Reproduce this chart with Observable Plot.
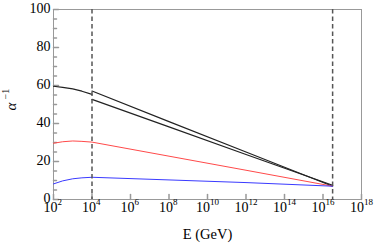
<!DOCTYPE html>
<html>
<head>
<meta charset="utf-8">
<script src="https://cdn.jsdelivr.net/npm/d3@7"></script>
<script src="https://cdn.jsdelivr.net/npm/@observablehq/plot@0.6"></script>
<style>
  html, body { margin: 0; padding: 0; background: #fff; }
</style>
</head>
<body>
<div id="chart"></div>
<script>
// ---- data ----
const E_low = [1e2, 3e2, 1e3, 3e3, 1e4];
const blackLow = [59.6, 59.0, 58.2, 57.0, 55.3];
const redLow = [29.6, 30.4, 30.8, 30.6, 30.2];
const blueLow = [8.2, 9.8, 10.9, 11.4, 11.7];

const E_high = [1e4, 1e8, 1e12, 3.16e16];
const black1High = [57.1, 41.0, 25.0, 7.0];
const black2High = [52.7, 38.2, 23.7, 7.5];
const redHigh = [30.2, 22.8, 15.4, 7.0];
const blueHigh = [11.7, 10.3, 8.9, 7.0];

const thresholds = [1e4, 3.16e16];

const xTicks = [1e2, 1e4, 1e6, 1e8, 1e10, 1e12, 1e14, 1e16, 1e18];
const xTickBase = "10";
const xTickExponents = ["2", "4", "6", "8", "10", "12", "14", "16", "18"];
const yTicks = [0, 20, 40, 60, 80, 100];
const yMinorTicks = [5, 10, 15, 25, 30, 35, 45, 50, 55, 65, 70, 75, 85, 90, 95];
const xTitle = "E (GeV)";
const yTitleBase = "α";
const yTitleExp = "−1";

// ---- build series ----
const pts = (xs, ys) => xs.map((x, i) => ({x, y: ys[i]}));
const series = [
  {data: pts(E_low, blackLow), color: "#222", w: 1.2},
  {data: pts(E_high, black1High), color: "#222", w: 1.2},
  {data: pts(E_high, black2High), color: "#222", w: 1.2},
  {data: pts(E_low.concat(E_high.slice(1)), redLow.concat(redHigh.slice(1))), color: "#ff4a4a", w: 1},
  {data: pts(E_low.concat(E_high.slice(1)), blueLow.concat(blueHigh.slice(1))), color: "#3a3aff", w: 1}
];
const xLabels = xTicks.map((x, i) => ({x, base: xTickBase, exp: xTickExponents[i]}));

const tickShape = {draw(ctx, l) { ctx.moveTo(0, 0); ctx.lineTo(0, -l); }};
const frameColor = "#999";
const serif = "'Liberation Serif', 'Times New Roman', Times, 'DejaVu Serif', serif";

const plot = Plot.plot({
  width: 374,
  height: 248,
  marginLeft: 53,
  marginRight: 13,
  marginTop: 9,
  marginBottom: 49,
  style: {fontFamily: serif, fontSize: "14px", color: "#000", background: "#fff"},
  x: {type: "log", domain: [1e2, 1e18], axis: null},
  y: {domain: [0, 100], axis: null},
  marks: [
    Plot.frame({stroke: frameColor, strokeWidth: 1}),
    Plot.vector(yTicks, {x: 1e2, y: d => d, length: 5, rotate: 90, anchor: "start", shape: tickShape, stroke: frameColor}),
    Plot.vector(yMinorTicks, {x: 1e2, y: d => d, length: 3, rotate: 90, anchor: "start", shape: tickShape, stroke: frameColor}),
    Plot.vector(xTicks, {x: d => d, y: 0, length: 5, rotate: 0, anchor: "start", shape: tickShape, stroke: frameColor}),
    // x tick labels: base "10" plus raised exponent
    Plot.text(xLabels.filter(d => d.exp.length === 1), {x: "x", text: "base", frameAnchor: "bottom", lineAnchor: "top", textAnchor: "end", dx: 4, dy: 3, fontSize: 14, fontFamily: serif, fill: "#000"}),
    Plot.text(xLabels.filter(d => d.exp.length === 1), {x: "x", text: "exp", frameAnchor: "bottom", lineAnchor: "top", textAnchor: "start", dx: 4, dy: -0.5, fontSize: 9, fontFamily: serif, fill: "#000"}),
    Plot.text(xLabels.filter(d => d.exp.length === 2), {x: "x", text: "base", frameAnchor: "bottom", lineAnchor: "top", textAnchor: "end", dx: 2.5, dy: 3, fontSize: 14, fontFamily: serif, fill: "#000"}),
    Plot.text(xLabels.filter(d => d.exp.length === 2), {x: "x", text: "exp", frameAnchor: "bottom", lineAnchor: "top", textAnchor: "start", dx: 2.5, dy: -0.5, fontSize: 9, fontFamily: serif, fill: "#000"}),
    // y tick labels
    Plot.text(yTicks, {y: d => d, frameAnchor: "left", textAnchor: "end", dx: -3, dy: -0.5, text: d => String(d), fontSize: 14, fontFamily: serif, fill: "#000"}),
    ...series.map(s => Plot.line(s.data, {x: "x", y: "y", stroke: s.color, strokeWidth: s.w})),
    Plot.ruleX(thresholds, {stroke: "#555", strokeWidth: 1.5, strokeDasharray: "4.5,3"}),
    Plot.text([xTitle], {frameAnchor: "bottom", dy: 39, text: d => d, fontSize: 14.5, fontFamily: serif, fill: "#000"}),
    Plot.text([yTitleBase], {frameAnchor: "left", dx: -42, dy: 6, rotate: -90, text: d => d, fontSize: 15, fontFamily: serif, fontStyle: "italic", fill: "#000"}),
    Plot.text([yTitleExp], {frameAnchor: "left", dx: -47.5, dy: -5, rotate: -90, text: d => d, fontSize: 10, fontFamily: serif, fill: "#000"})
  ]
});
document.getElementById("chart").appendChild(plot);
</script>
</body>
</html>
